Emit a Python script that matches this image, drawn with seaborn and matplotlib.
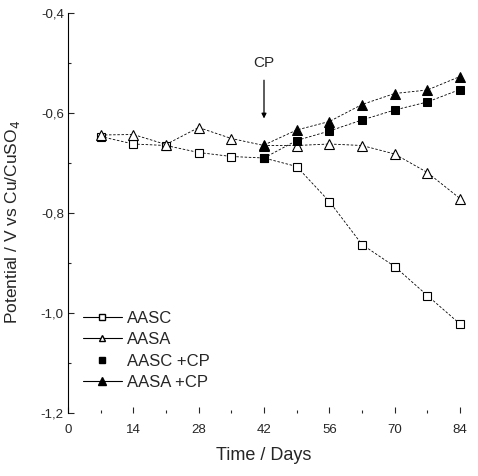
import matplotlib
matplotlib.use("Agg")
import matplotlib.pyplot as plt
import seaborn as sns
import pandas as pd
from matplotlib.lines import Line2D
from matplotlib.ticker import MultipleLocator, FuncFormatter

# Data
days_all = [7, 14, 21, 28, 35, 42, 49, 56, 63, 70, 77, 84]
aasc = [-0.647, -0.662, -0.665, -0.679, -0.687, -0.690, -0.707, -0.777, -0.863, -0.907, -0.965, -1.022]
aasa = [-0.644, -0.643, -0.663, -0.629, -0.651, -0.665, -0.665, -0.662, -0.665, -0.682, -0.719, -0.771]
days_cp = [42, 49, 56, 63, 70, 77, 84]
aasc_cp = [-0.690, -0.655, -0.636, -0.614, -0.594, -0.578, -0.553]
aasa_cp = [-0.664, -0.634, -0.617, -0.583, -0.561, -0.554, -0.527]
labels = ["AASC", "AASA", "AASC +CP", "AASA +CP"]

sns.set_style("ticks")
plt.rcParams['font.family'] = ['Liberation Sans', 'DejaVu Sans']

fig = plt.figure(figsize=(4.78, 4.76), dpi=100)
ax = fig.add_axes([68/478, 1-413/476, 392/478, 400/476])

line_kw = dict(color='black', linewidth=0.6, linestyle=(0, (3, 2)), clip_on=False)
sns.lineplot(x=days_all, y=aasc, ax=ax, marker='s', markersize=5.5,
             markerfacecolor='white', markeredgecolor='black', markeredgewidth=0.8, **line_kw)
sns.lineplot(x=days_all, y=aasa, ax=ax, marker='^', markersize=6.5,
             markerfacecolor='white', markeredgecolor='black', markeredgewidth=0.8, **line_kw)
sns.lineplot(x=days_cp, y=aasc_cp, ax=ax, marker='s', markersize=5.5,
             markerfacecolor='black', markeredgecolor='black', **line_kw)
sns.lineplot(x=days_cp, y=aasa_cp, ax=ax, marker='^', markersize=6.5,
             markerfacecolor='black', markeredgecolor='black', **line_kw)

ax.set_xlim(0, 84)
ax.set_ylim(-1.2, -0.4)
ax.xaxis.set_major_locator(MultipleLocator(14))
ax.xaxis.set_minor_locator(MultipleLocator(7))
ax.yaxis.set_major_locator(MultipleLocator(0.2))
ax.yaxis.set_minor_locator(MultipleLocator(0.1))
ax.yaxis.set_major_formatter(FuncFormatter(lambda v, p: f"{v:.1f}".replace('.', ',')))
ax.tick_params(axis='both', which='both', direction='in', labelsize=9.5, width=0.8)
ax.tick_params(axis='both', which='major', length=4)
ax.tick_params(axis='both', which='minor', length=2.5)
ax.tick_params(axis='x', pad=8)
ax.tick_params(axis='y', pad=3)
for s in ['top', 'right', 'bottom']:
    ax.spines[s].set_visible(False)
ax.spines['left'].set_linewidth(0.8)
ax.spines['left'].set_color('black')

ax.set_xlabel("Time / Days", fontsize=13, labelpad=8)
ax.set_ylabel("Potential / V vs Cu/CuSO$_4$", fontsize=12.5)
ax.yaxis.set_label_coords(-0.118, 0.4775)

ax.annotate("CP", xy=(42, -0.611), xytext=(42, -0.5), ha='center', va='center',
            fontsize=11,
            arrowprops=dict(arrowstyle='-|>', color='black', lw=0.9, mutation_scale=7,
                            shrinkA=5, shrinkB=0))

handles = [
    Line2D([], [], color='black', lw=0.8, marker='s', ms=4, mfc='white', mec='black'),
    Line2D([], [], color='black', lw=0.8, marker='^', ms=5, mfc='white', mec='black'),
    Line2D([], [], color='black', lw=0, marker='s', ms=4.5, mfc='black', mec='black'),
    Line2D([], [], color='black', lw=0.8, marker='^', ms=5.5, mfc='black', mec='black'),
]
ax.legend(handles, labels, loc='upper left', bbox_to_anchor=(0.02, 0.272), frameon=False,
          fontsize=12, handlelength=2.35, handletextpad=0.3, labelspacing=0.38,
          borderaxespad=0.0)

fig.savefig("out.png", dpi=100)
